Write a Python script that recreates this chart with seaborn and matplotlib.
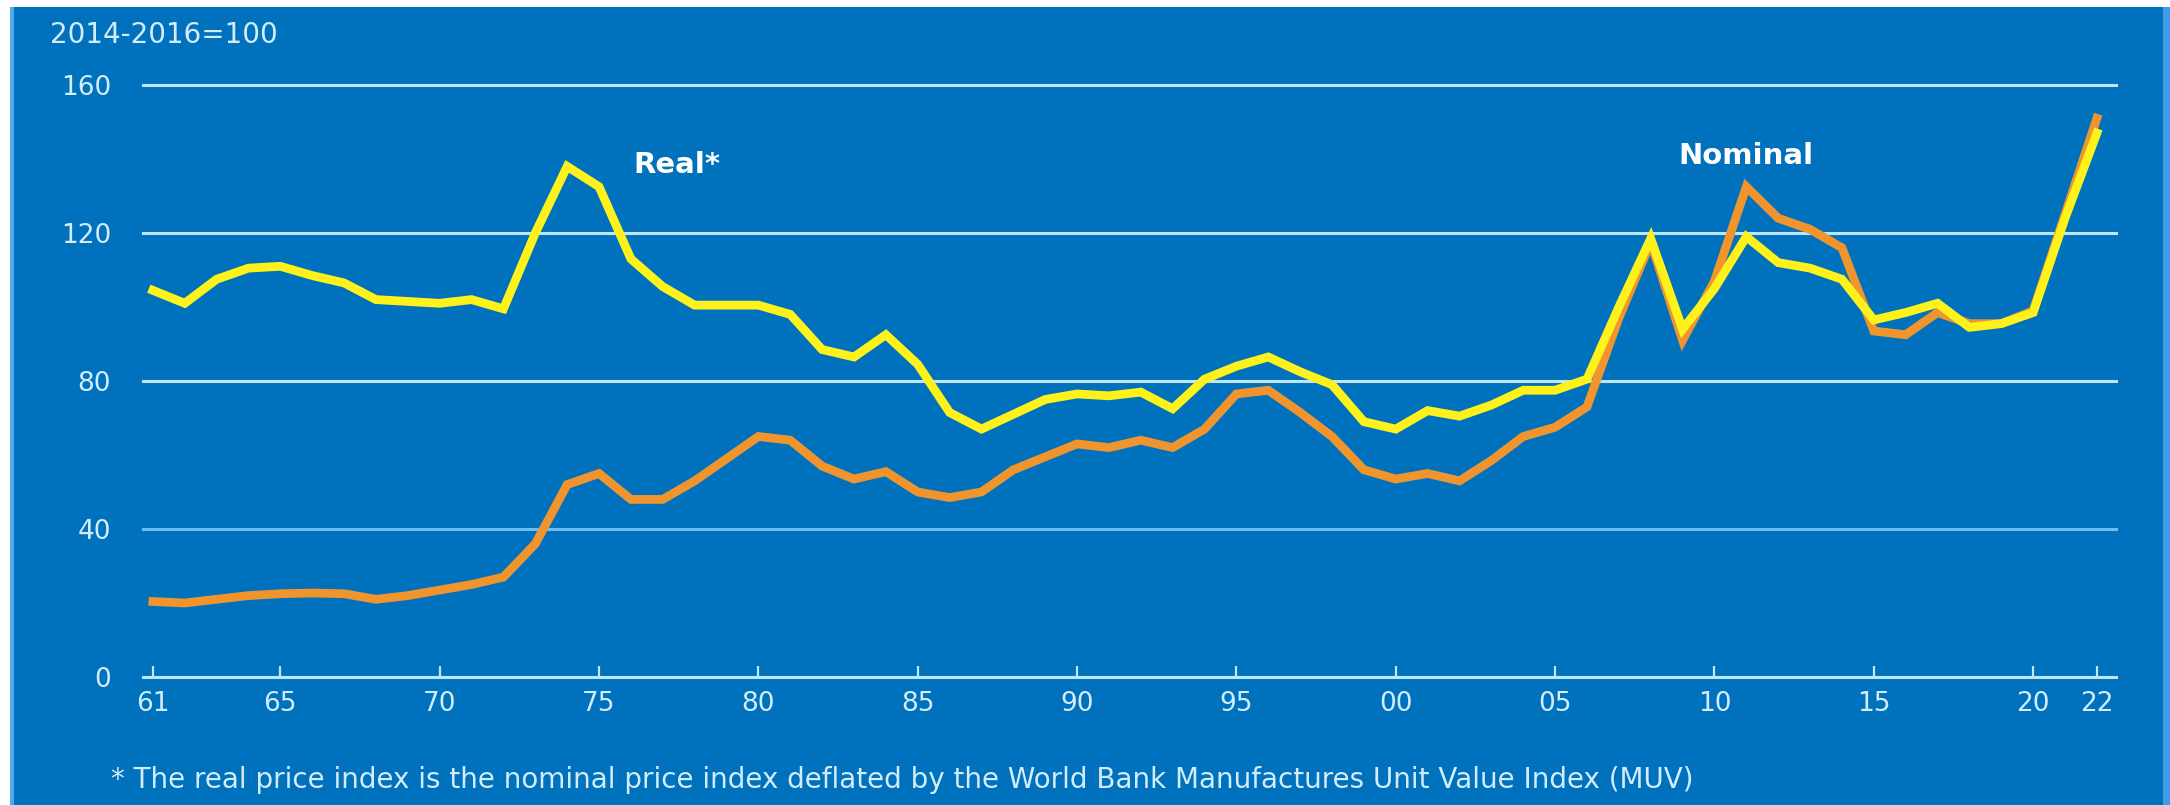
import matplotlib
matplotlib.use("Agg")
import matplotlib.pyplot as plt
from matplotlib.patches import Rectangle
import seaborn as sns
import pandas as pd

# ---- data ----
years = list(range(1961, 2023))
nominal = [20.4, 20.0, 21.0, 22.0, 22.5, 22.7, 22.5, 21.0, 22.0, 23.5,
           25.0, 27.0, 36.0, 52.0, 55.0, 48.0, 48.0, 53.0, 59.0, 65.0,
           64.0, 57.0, 53.5, 55.5, 50.0, 48.5, 50.0, 56.0, 59.5, 63.0,
           62.0, 64.0, 62.0, 67.0, 76.5, 77.5, 71.5, 65.0, 56.0, 53.5,
           55.0, 53.0, 58.5, 65.0, 67.5, 73.0, 97.0, 117.5, 91.0, 107.0,
           132.5, 124.0, 121.0, 116.0, 93.5, 92.5, 98.5, 95.5, 95.5, 99.0,
           125.0, 151.0]
real = [104.5, 101.0, 107.5, 110.5, 111.0, 108.5, 106.5, 102.0, 101.5, 101.0,
        102.0, 99.5, 120.0, 138.0, 132.5, 113.0, 105.5, 100.5, 100.5, 100.5,
        98.0, 88.5, 86.5, 92.5, 84.5, 71.5, 67.0, 71.0, 75.0, 76.5,
        76.0, 77.0, 72.5, 80.5, 84.0, 86.5, 82.5, 79.0, 69.0, 67.0,
        72.0, 70.5, 73.5, 77.5, 77.5, 80.5, 100.0, 118.5, 94.0, 105.0,
        119.0, 112.0, 110.5, 107.5, 96.5, 98.5, 101.0, 94.5, 95.5, 98.5,
        124.0, 147.0]
xtick_years = [1961, 1965, 1970, 1975, 1980, 1985, 1990, 1995, 2000,
               2005, 2010, 2015, 2020, 2022]
xtick_labels = ["61", "65", "70", "75", "80", "85", "90", "95", "00",
                "05", "10", "15", "20", "22"]
ytick_vals = [0, 40, 80, 120, 160]
unit_label = "2014-2016=100"
series_labels = ["Real*", "Nominal"]
footnote = ("* The real price index is the nominal price index deflated by the "
            "World Bank Manufactures Unit Value Index (MUV)")

df = pd.DataFrame({"year": years, "nominal": nominal, "real": real})

# ---- style ----
BG = "#0071BC"
TXT = "#D2ECFA"
GRID = "#BFE6F7"
GRID40 = "#6CBEF2"
YELLOW = "#FFF21A"
ORANGE = "#F0952D"

plt.rcParams["font.family"] = ["DejaVu Sans"]

W, H = 2170, 805
fig = plt.figure(figsize=(W / 100, H / 100), dpi=100)
fig.patch.set_facecolor("white")
# blue panel (behind everything)
fig.patches.append(Rectangle((10 / W, 0), 1 - 10 / W, 1 - 7 / H,
                             transform=fig.transFigure, facecolor=BG,
                             edgecolor="none", zorder=-10))
fig.patches.append(Rectangle((10 / W, 0), 4 / W, 1 - 7 / H,
                             transform=fig.transFigure, facecolor="#4FA9EC",
                             edgecolor="none", zorder=-9))
fig.patches.append(Rectangle((2163 / W, 0), 7 / W, 1 - 7 / H,
                             transform=fig.transFigure, facecolor="#3E9DE6",
                             edgecolor="none", zorder=-9))

ax = fig.add_axes([143 / W, 1 - 677 / H, (2116 - 143) / W, (677 - 85) / H])
ax.set_facecolor("none")
ax.set_zorder(1)

sns.lineplot(data=df, x="year", y="nominal", ax=ax, color=ORANGE,
             linewidth=6.3, zorder=3, solid_joinstyle="miter")
sns.lineplot(data=df, x="year", y="real", ax=ax, color=YELLOW,
             linewidth=6.3, zorder=4, solid_joinstyle="miter")

ax.set_xlim(1960.69, 2022.6)
ax.set_ylim(0, 160)

for v in ytick_vals[1:]:
    ax.axhline(v, color=GRID40 if v == 40 else GRID, linewidth=2.2,
               zorder=1, clip_on=False)

for s in ["top", "right", "left"]:
    ax.spines[s].set_visible(False)
ax.spines["bottom"].set_color(GRID)
ax.spines["bottom"].set_linewidth(2.2)

ax.set_xticks(xtick_years)
ax.set_xticklabels(xtick_labels)
ax.set_yticks(ytick_vals)
ax.set_yticklabels([str(v) for v in ytick_vals])
ax.tick_params(axis="x", direction="in", length=8, width=1.6, color=GRID,
               labelcolor=TXT, labelsize=19, pad=10)
ax.tick_params(axis="y", length=0, labelcolor=TXT, labelsize=19, pad=23)
ax.set_xlabel("")
ax.set_ylabel("")

ax.text(1976.09, 138.5, series_labels[0], color="white", fontsize=21,
        fontweight="bold", ha="left", va="center", zorder=5)
ax.text(2008.88, 140.9, series_labels[1], color="white", fontsize=21,
        fontweight="bold", ha="left", va="center", zorder=5)

fig.text(50 / W, 1 - 35 / H, unit_label, color=TXT, fontsize=20,
         ha="left", va="center")
fig.text(111 / W, 1 - 780 / H, footnote, color=TXT, fontsize=20,
         ha="left", va="center")

fig.savefig("out.png", dpi=100, facecolor=fig.get_facecolor())
